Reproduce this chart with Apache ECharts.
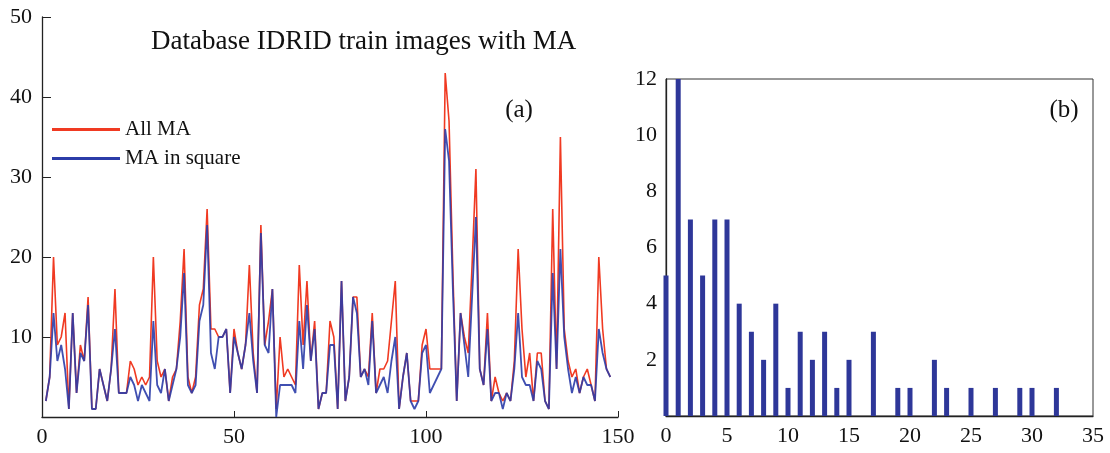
<!DOCTYPE html>
<html>
<head>
<meta charset="utf-8">
<script src="https://cdn.jsdelivr.net/npm/echarts@6/dist/echarts.min.js"></script>
<style>
html, body { margin: 0; padding: 0; background: #fff; }
#main { width: 1110px; height: 453px; }
</style>
</head>
<body>
<div id="main"></div>
<script>
var chart = echarts.init(document.getElementById('main'));

// (a) number of MA per train image, index 1..148
var allMA = [2, 5, 20, 9, 10, 13, 1, 13, 3, 9, 7, 15, 1, 1, 6, 4, 2, 6, 16, 3,
    3, 3, 7, 6, 4, 5, 4, 5, 20, 7, 5, 6, 2, 5, 6, 12, 21, 5, 3, 5,
    14, 16, 26, 11, 11, 10, 10, 11, 3, 11, 8, 6, 9, 19, 8, 3, 24, 9, 12, 16,
    1, 10, 5, 6, 5, 4, 19, 9, 17, 7, 12, 1, 3, 3, 12, 10, 1, 17, 2, 5,
    15, 15, 5, 6, 5, 13, 3, 6, 6, 7, 12, 17, 1, 5, 8, 2, 2, 2, 9, 11,
    6, 6, 6, 6, 43, 37, 18, 2, 13, 10, 8, 19, 31, 6, 4, 13, 2, 5, 3, 2,
    3, 2, 7, 21, 11, 5, 8, 2, 8, 8, 2, 1, 26, 6, 35, 11, 7, 5, 6, 3,
    5, 6, 4, 2, 20, 11, 6, 5];
var squareMA = [2, 5, 13, 7, 9, 6, 1, 13, 3, 8, 7, 14, 1, 1, 6, 4, 2, 6, 11, 3,
    3, 3, 5, 4, 2, 4, 3, 2, 12, 4, 3, 6, 2, 4, 6, 10, 18, 4, 3, 4,
    12, 14, 24, 8, 6, 10, 10, 11, 3, 10, 8, 6, 9, 13, 7, 3, 23, 9, 8, 16,
    0, 4, 4, 4, 4, 3, 12, 6, 14, 7, 11, 1, 3, 3, 9, 9, 1, 17, 2, 5,
    15, 13, 5, 6, 4, 12, 3, 4, 5, 3, 7, 10, 1, 5, 8, 2, 1, 2, 8, 9,
    3, 4, 5, 6, 36, 32, 16, 2, 13, 9, 5, 15, 25, 6, 4, 11, 2, 3, 3, 1,
    3, 2, 6, 13, 5, 4, 4, 2, 7, 6, 2, 1, 18, 6, 21, 10, 6, 3, 5, 3,
    5, 4, 4, 2, 11, 8, 6, 5];

// (b) histogram: MA count -> number of images
var histCount = [0, 1, 2, 3, 4, 5, 6, 7, 8, 9, 10, 11, 12, 13, 14, 15, 17, 19, 20, 22, 23, 25, 27, 29, 30, 32];
var histFreq = [5, 12, 7, 5, 7, 7, 4, 3, 2, 4, 1, 3, 2, 3, 1, 2, 3, 1, 1, 2, 1, 1, 1, 1, 1, 1];

function pairs(vals) {
    var res = [];
    for (var i = 0; i < vals.length; i++) {
        res.push([i + 1, vals[i]]);
    }
    return res;
}

var histData = [];
for (var j = 0; j < histCount.length; j++) {
    histData.push([histCount[j], histFreq[j]]);
}

var serif = 'Liberation Serif';
var axisTxt = { color: '#111', fontFamily: serif, fontSize: 22 };
var lineCol = '#222';

var option = {
    animation: false,
    backgroundColor: '#fff',
    grid: [
        { left: 42, top: 17, width: 576, height: 400 },
        { left: 666, top: 79, width: 427, height: 337, show: true, borderColor: '#333', borderWidth: 1 }
    ],
    legend: {
        data: [{ name: 'All MA', icon: 'rect' }, { name: 'MA in square', icon: 'rect' }],
        orient: 'vertical',
        left: 52,
        top: 119,
        padding: 0,
        itemWidth: 68,
        itemHeight: 3,
        itemGap: 8,
        textStyle: { fontFamily: serif, fontSize: 21, color: '#111' }
    },
    xAxis: [{
        gridIndex: 0, type: 'value', min: 0, max: 150, interval: 50,
        axisLine: { lineStyle: { color: lineCol, width: 1.3 } },
        axisTick: { inside: true, length: 6, lineStyle: { color: lineCol } },
        axisLabel: Object.assign({ margin: 9 }, axisTxt),
        splitLine: { show: false }
    }, {
        gridIndex: 1, type: 'value', min: 0, max: 35, interval: 5,
        axisLine: { lineStyle: { color: lineCol, width: 1.3 } },
        axisTick: { show: false },
        axisLabel: Object.assign({ margin: 9 }, axisTxt),
        splitLine: { show: false }
    }],
    yAxis: [{
        gridIndex: 0, type: 'value', min: 0, max: 50, interval: 10,
        axisLine: { show: true, lineStyle: { color: lineCol, width: 1.3 } },
        axisTick: { show: true, inside: true, length: 9, lineStyle: { color: lineCol } },
        axisLabel: Object.assign({ margin: 10, showMinLabel: false }, axisTxt),
        splitLine: { show: false }
    }, {
        gridIndex: 1, type: 'value', min: 0, max: 12, interval: 2,
        axisLine: { show: true, lineStyle: { color: lineCol, width: 1.3 } },
        axisTick: { show: false },
        axisLabel: Object.assign({ margin: 9, showMinLabel: false }, axisTxt),
        splitLine: { show: false }
    }],
    series: [{
        name: 'All MA',
        type: 'line',
        xAxisIndex: 0, yAxisIndex: 0,
        symbol: 'none',
        color: '#f03a22',
        lineStyle: { width: 1.6, color: '#f03a22' },
        data: pairs(allMA)
    }, {
        name: 'MA in square',
        type: 'line',
        xAxisIndex: 0, yAxisIndex: 0,
        symbol: 'none',
        color: '#2b3ca8',
        lineStyle: { width: 1.8, color: '#2b3ca8', opacity: 0.9 },
        data: pairs(squareMA)
    }, {
        name: 'hist',
        type: 'bar',
        xAxisIndex: 1, yAxisIndex: 1,
        barWidth: 5,
        clip: true,
        itemStyle: { color: '#2e3799' },
        data: histData
    }],
    graphic: [{
        type: 'text', x: 151, y: 42,
        style: { text: 'Database IDRID train images with MA', font: '27px "Liberation Serif"', fill: '#111', textVerticalAlign: 'middle' }
    }, {
        type: 'text', x: 519, y: 110,
        style: { text: '(a)', font: '25px "Liberation Serif"', fill: '#111', textAlign: 'center', textVerticalAlign: 'middle' }
    }, {
        type: 'text', x: 1064, y: 110,
        style: { text: '(b)', font: '25px "Liberation Serif"', fill: '#111', textAlign: 'center', textVerticalAlign: 'middle' }
    }]
};

chart.setOption(option);
</script>
</body>
</html>
